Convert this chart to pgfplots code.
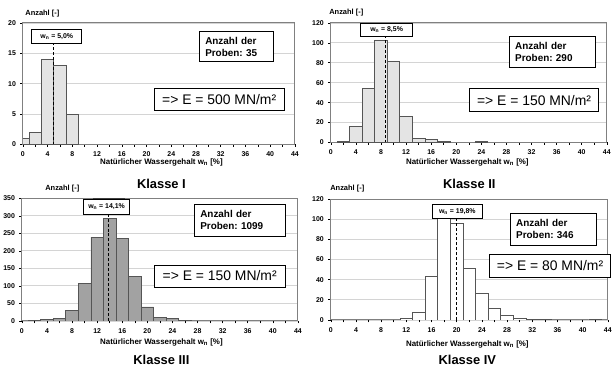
\documentclass[border=0pt]{standalone}
\usepackage{pgfplots}
\pgfplotsset{compat=1.18}
\usepackage{fontspec}
\setmainfont{Liberation Sans}
\frenchspacing
\definecolor{axgray}{RGB}{128,128,128}
\definecolor{gridgray}{RGB}{212,212,212}
\definecolor{barline}{RGB}{85,85,85}
\definecolor{barlight}{RGB}{228,228,228}
\definecolor{bardark}{RGB}{162,162,162}
\pgfplotsset{panel/.style={
  scale only axis, xmin=0, xmax=44, ymin=0,
  xtick={0,4,...,44}, minor xtick={2,6,...,42},
  tick align=outside, major tick length=2.5bp, minor tick length=2.5bp,
  ymajorgrids, grid style={gridgray, line width=0.7pt},
  axis line style={axgray, line width=0.9pt},
  tick style={black, line width=0.6pt},
  xtick pos=bottom, ytick pos=left,
  ticklabel style={font=\fontsize{7}{8}\selectfont\bfseries},
  /pgf/number format/assume math mode=true,
  xticklabel style={yshift=-1.5bp},
  yticklabel style={xshift=-1bp},
  anchor=south west,
}}
\tikzset{
  nbox/.style={draw=black, line width=0.8pt, fill=white, font=\fontsize{10}{12}\selectfont\bfseries, align=left, inner xsep=6bp, inner ysep=0pt, anchor=center},
  ebox/.style={draw=black, line width=0.8pt, fill=white, font=\fontsize{14}{16}\selectfont, inner sep=0pt, anchor=center},
  wbox/.style={draw=black, line width=0.8pt, fill=white, font=\fontsize{7}{8}\selectfont\bfseries, inner sep=0pt, anchor=center},
  lab/.style={font=\fontsize{7.5}{8.5}\selectfont\bfseries},
  xlab/.style={font=\fontsize{8}{9}\selectfont\bfseries},
  ttl/.style={font=\fontsize{13}{15}\selectfont\bfseries},
}
\begin{document}
\begin{tikzpicture}[x=1bp,y=1bp]
\path (0,0) rectangle (615,366);
% ---------------- Klasse I
\begin{axis}[panel, at={(22bp,221bp)}, width=273bp, height=122bp, ymax=20, ytick={0,5,...,20}]
\addplot[ybar, bar width=2, fill=barlight, draw=barline, line width=0.7pt] coordinates {(0,1) (2,2) (4,14) (6,13) (8,5)};
\addplot[sharp plot, densely dashed, black, line width=0.5pt, mark=none] coordinates {(4.9,0) (4.9,16.6)};
\end{axis}
% ---------------- Klasse II
\begin{axis}[panel, at={(331bp,223bp)}, width=277bp, height=120bp, ymax=120, ytick={0,20,...,120}]
\addplot[ybar, bar width=2, fill=barlight, draw=barline, line width=0.7pt] coordinates {(2,1) (4,16) (6,54) (8,103) (10,81) (12,26) (14,4) (16,3) (18,1) (24,1)};
\addplot[sharp plot, densely dashed, black, line width=0.5pt, mark=none] coordinates {(8.6,0) (8.6,106)};
\end{axis}
% ---------------- Klasse III
\begin{axis}[panel, at={(21bp,44bp)}, width=277bp, height=123bp, ymax=350, ytick={0,50,...,350}]
\addplot[ybar, bar width=2, fill=bardark, draw=barline, line width=0.7pt] coordinates {(2,1) (4,3) (6,7) (8,30) (10,106) (12,239) (14,292) (16,236) (18,127) (20,40) (22,10) (24,7) (26,1)};
\addplot[sharp plot, densely dashed, black, line width=0.5pt, mark=none] coordinates {(13.8,0) (13.8,304)};
\end{axis}
% ---------------- Klasse IV
\begin{axis}[panel, at={(331bp,45bp)}, width=278bp, height=121bp, ymax=120, ytick={0,20,...,120}]
\addplot[ybar, bar width=2, fill=white, draw=barline, line width=0.7pt] coordinates {(12,2) (14,7) (16,43) (18,101) (20,96) (22,51) (24,26) (26,11) (28,4) (30,2) (32,1) (34,1) (42,1)};
\addplot[sharp plot, densely dashed, black, line width=0.5pt, mark=none] coordinates {(19.9,0) (19.9,101)};
\end{axis}
% ---------------- annotations
\node[lab, anchor=west] at (21,352) {Anzahl [-]};
\node[lab, anchor=west] at (326,353) {Anzahl [-]};
\node[lab, anchor=west] at (41,177) {Anzahl [-]};
\node[lab, anchor=west] at (327,177) {Anzahl [-]};
\node[xlab] at (161,203) {Natürlicher Wassergehalt w\textsubscript{n} [\%]};
\node[xlab] at (468,203) {Natürlicher Wassergehalt w\textsubscript{n} [\%]};
\node[xlab] at (161,22) {Natürlicher Wassergehalt w\textsubscript{n} [\%]};
\node[xlab] at (468,20) {Natürlicher Wassergehalt w\textsubscript{n} [\%]};
\node[ttl] at (161,181) {Klasse I};
\node[ttl] at (470,181) {Klasse II};
\node[ttl] at (161,5) {Klasse III};
\node[ttl] at (468,5) {Klasse IV};
% number boxes
\node[nbox, minimum width=74bp, minimum height=30bp, text width=62bp] at (236,319) {Anzahl der\\Proben: 35};
\node[nbox, minimum width=87bp, minimum height=31bp, text width=75bp] at (553.5,313.5) {Anzahl der\\Proben: 290};
\node[nbox, minimum width=91bp, minimum height=32bp, text width=79bp] at (239.5,145) {Anzahl der\\Proben: 1099};
\node[nbox, minimum width=87bp, minimum height=32bp, text width=75bp] at (554.5,136) {Anzahl der\\Proben: 346};
% E boxes
\node[ebox, minimum width=130bp, minimum height=22bp] at (219,266) {=> E = 500 MN/m²};
\node[ebox, minimum width=130bp, minimum height=23bp] at (535,265.5) {=> E = 150 MN/m²};
\node[ebox, minimum width=131bp, minimum height=22bp] at (219.5,89) {=> E = 150 MN/m²};
\node[ebox, minimum width=122bp, minimum height=23bp] at (551,99.5) {=> E = 80 MN/m²};
% w_n boxes
\draw[line width=1.4pt, black!75] (92,167) -- (124,167);
\node[wbox, minimum width=50bp, minimum height=14bp] at (56,329) {w\textsubscript{n} = 5,0\%};
\node[wbox, minimum width=52bp, minimum height=14bp] at (387,336) {w\textsubscript{n} = 8,5\%};
\node[wbox, minimum width=46bp, minimum height=15bp] at (106,158.5) {w\textsubscript{n} = 14,1\%};
\node[wbox, minimum width=50bp, minimum height=14bp] at (458,154) {w\textsubscript{n} = 19,8\%};
\end{tikzpicture}
\end{document}
